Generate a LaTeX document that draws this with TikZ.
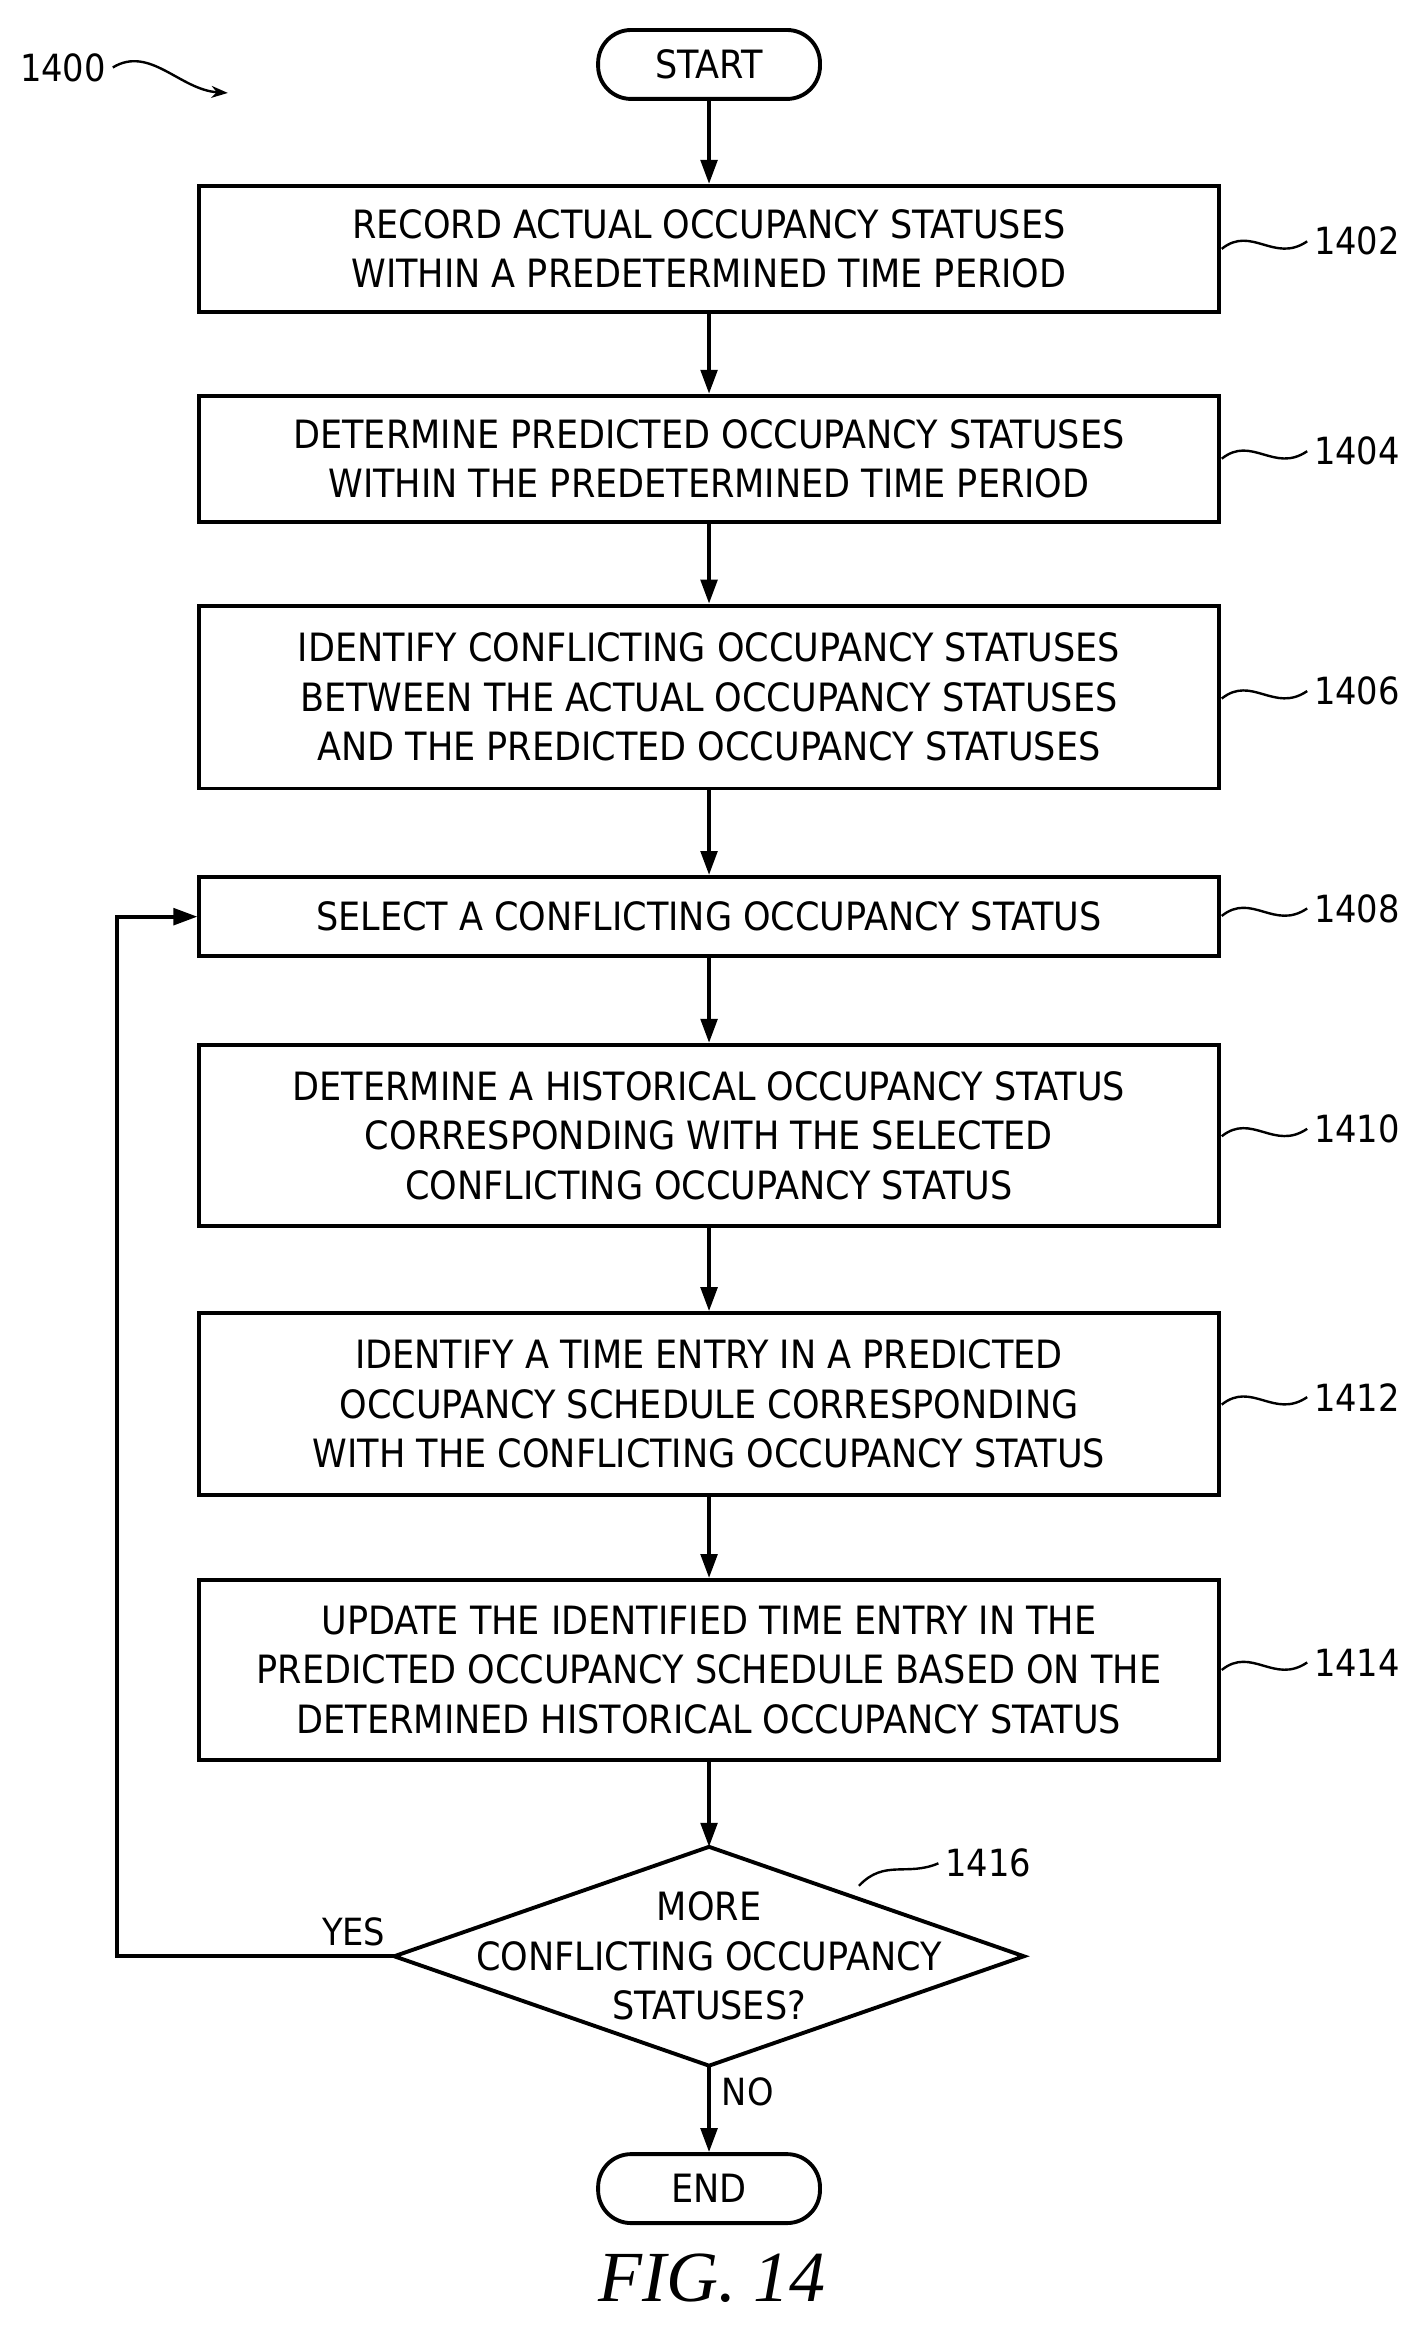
\documentclass[tikz,border=0pt]{standalone}
\usepackage{fontspec}
\setmainfont{DejaVu Sans Condensed}
\newfontfamily\figfont{Liberation Serif}
\usetikzlibrary{shapes.geometric,arrows.meta}
\begin{document}
\begin{tikzpicture}[x=1pt,y=-1pt,line width=2.6pt,
  box/.style={draw,minimum width=680pt,align=center,inner sep=0pt,font=\fontsize{26}{33}\selectfont},
  term/.style={draw,rounded corners=22pt,minimum width=148pt,minimum height=46pt,font=\fontsize{26}{30}\selectfont},
  lab/.style={font=\fontsize{25}{30}\selectfont},
  arr/.style={-{Triangle[length=16pt,width=11pt]}}]
\useasboundingbox (0,0) rectangle (940,1553);
\node[term] (start) at (473,43) {START};
\node[box,minimum height=84pt] (b1) at (473,166) {RECORD ACTUAL OCCUPANCY STATUSES\\WITHIN A PREDETERMINED TIME PERIOD};
\node[box,minimum height=84pt] (b2) at (473,306) {DETERMINE PREDICTED OCCUPANCY STATUSES\\WITHIN THE PREDETERMINED TIME PERIOD};
\node[box,minimum height=122pt] (b3) at (473,465) {IDENTIFY CONFLICTING OCCUPANCY STATUSES\\BETWEEN THE ACTUAL OCCUPANCY STATUSES\\AND THE PREDICTED OCCUPANCY STATUSES};
\node[box,minimum height=53pt] (b4) at (473,611.5) {SELECT A CONFLICTING OCCUPANCY STATUS};
\node[box,minimum height=121pt] (b5) at (473,757.5) {DETERMINE A HISTORICAL OCCUPANCY STATUS\\CORRESPONDING WITH THE SELECTED\\CONFLICTING OCCUPANCY STATUS};
\node[box,minimum height=121pt] (b6) at (473,936.5) {IDENTIFY A TIME ENTRY IN A PREDICTED\\OCCUPANCY SCHEDULE CORRESPONDING\\WITH THE CONFLICTING OCCUPANCY STATUS};
\node[box,minimum height=120pt] (b7) at (473,1114) {UPDATE THE IDENTIFIED TIME ENTRY IN THE\\PREDICTED OCCUPANCY SCHEDULE BASED ON THE\\DETERMINED HISTORICAL OCCUPANCY STATUS};
\coordinate (dt) at (473,1232);
\coordinate (db) at (473,1378);
\coordinate (dl) at (263,1305);
\coordinate (dr) at (683,1305);
\draw (dt)--(dr)--(db)--(dl)--cycle;
\node[align=center,font=\fontsize{26}{33}\selectfont] (d) at (473,1305) {MORE\\CONFLICTING OCCUPANCY\\STATUSES?};
\node[term] (end) at (473,1460) {END};
\draw[arr] (start)--(b1);
\draw[arr] (b1)--(b2);
\draw[arr] (b2)--(b3);
\draw[arr] (b3)--(b4);
\draw[arr] (b4)--(b5);
\draw[arr] (b5)--(b6);
\draw[arr] (b6)--(b7);
\draw[arr] (b7)--(dt);
\draw[arr] (db)--(end) node[pos=0.3,right=4pt,lab]{NO};
\coordinate (c1) at (78,1305);
\coordinate (c2) at (78,611.5);
\draw[arr] (dl)--(c1)--(c2)--(b4.west);
\node[lab] (yes) at (236,1289) {YES};
\foreach \n/\y/\t in {l1/166/1402,l2/306/1404,l3/466/1406,l4/611/1408,l5/758/1410,l6/937/1412,l7/1114/1414}{
  \node[lab,anchor=west] (\n) at (872,\y-5) {\t};
  \draw[line width=1.6pt] (815,\y) .. controls (835,\y-16) and (850,\y+10) .. (\n.west);
}
\node[lab,anchor=west] (l8) at (626,1243) {1416};
\coordinate (d8) at (573,1258);
\draw[line width=1.6pt] (d8) .. controls (590,1240) and (605,1252) .. (l8.west);
\node[lab] (l0) at (42,45) {1400};
\coordinate (a0) at (152,62);
\draw[line width=1.6pt,-{Stealth[length=11pt,width=8pt]}] (l0.east) .. controls (100,30) and (120,60) .. (a0);
\node[font=\figfont\itshape\fontsize{48}{52}\selectfont] (fig) at (475,1520) {FIG. 14};
\end{tikzpicture}
\end{document}
